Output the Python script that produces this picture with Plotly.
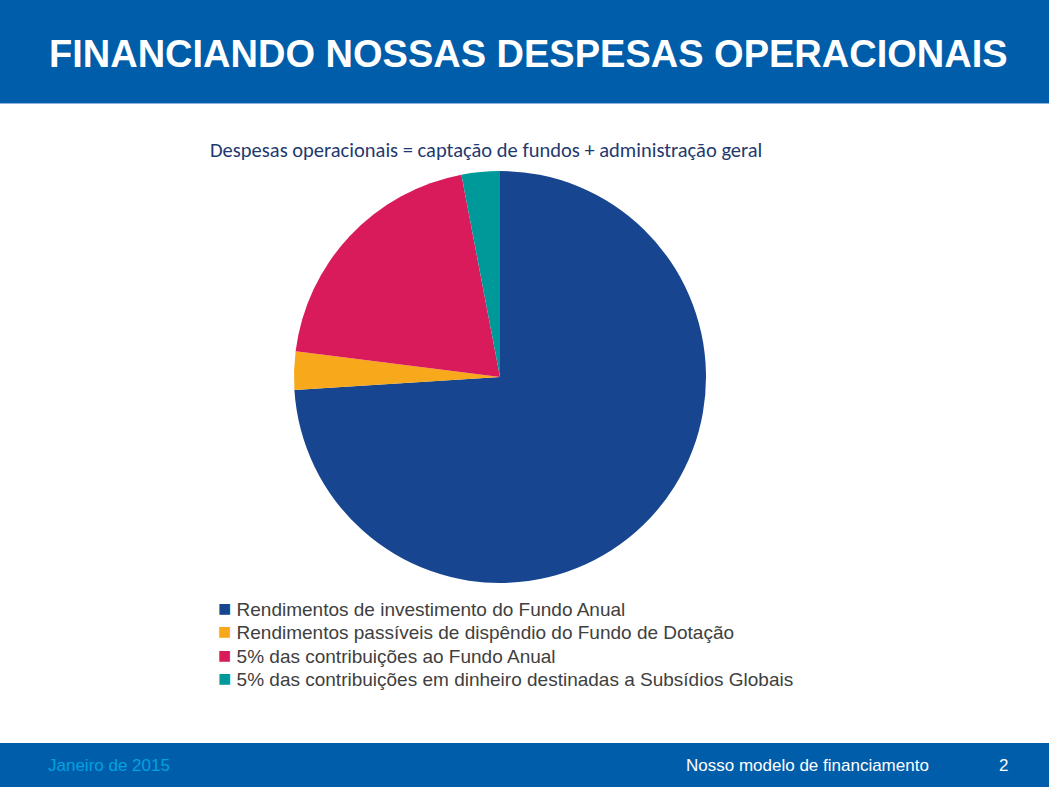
import plotly.graph_objects as go

categories = [
    "Rendimentos de investimento do Fundo Anual",
    "Rendimentos passíveis de dispêndio do Fundo de Dotação",
    "5% das contribuições ao Fundo Anual",
    "5% das contribuições em dinheiro destinadas a Subsídios Globais",
]
values = [74, 3, 20, 3]
colors = ["#17458F", "#F7A81B", "#D91B5C", "#009999"]

title_text = "FINANCIANDO NOSSAS DESPESAS OPERACIONAIS"
subtitle_text = "Despesas operacionais = captação de fundos + administração geral"
footer_left = "Janeiro de 2015"
footer_mid = "Nosso modelo de financiamento"
footer_page = "2"

W, H = 1049, 787
sans = "Liberation Sans, Arial, sans-serif"

fig = go.Figure(go.Pie(
    labels=categories,
    values=values,
    sort=False,
    direction="clockwise",
    rotation=0,
    marker=dict(colors=colors, line=dict(width=0)),
    textinfo="none",
    hoverinfo="label+percent",
    domain=dict(x=[(500 - 206) / W, (500 + 206) / W], y=[1 - 583 / H, 1 - 171 / H]),
))

annotations = [
    dict(text="<b>" + title_text + "</b>", xref="paper", yref="paper", x=528 / W, y=1 - 54 / H,
         xanchor="center", yanchor="middle", showarrow=False,
         font=dict(family=sans, size=38, color="white")),
    dict(text=subtitle_text, xref="paper", yref="paper", x=486 / W, y=1 - 150 / H,
         xanchor="center", yanchor="middle", showarrow=False,
         font=dict(family="Carlito, Calibri, Open Sans, sans-serif", size=20.5, color="#1F3A6E")),
    dict(text=footer_left, xref="paper", yref="paper", x=46 / W, y=1 - 765 / H,
         xanchor="left", yanchor="middle", showarrow=False,
         font=dict(family=sans, size=17, color="#00A2E0")),
    dict(text=footer_mid, xref="paper", yref="paper", x=931 / W, y=1 - 765 / H,
         xanchor="right", yanchor="middle", showarrow=False,
         font=dict(family=sans, size=17, color="white")),
    dict(text=footer_page, xref="paper", yref="paper", x=1003 / W, y=1 - 765 / H,
         xanchor="center", yanchor="middle", showarrow=False,
         font=dict(family=sans, size=17, color="white")),
]

# legend (built from the category and colour lists)
legend_top, legend_step = 608, 23.6
for i, (cat, col) in enumerate(zip(categories, colors)):
    annotations.append(dict(
        text=f'<span style="color:{col};font-size:22px">■</span> {cat}',
        xref="paper", yref="paper", x=216 / W, y=1 - (legend_top + i * legend_step) / H,
        xanchor="left", yanchor="middle", showarrow=False,
        font=dict(family=sans, size=19, color="#404040"),
    ))

fig.update_layout(
    width=W, height=H,
    margin=dict(l=0, r=0, t=0, b=0),
    paper_bgcolor="white",
    showlegend=False,
    shapes=[
        dict(type="rect", xref="paper", yref="paper", x0=0, x1=1, y0=1 - 103 / H, y1=1,
             fillcolor="#005DAA", line=dict(width=0), layer="below"),
        dict(type="line", xref="paper", yref="paper", x0=0, x1=1, y0=1 - 103.5 / H, y1=1 - 103.5 / H,
             line=dict(color="#8FB3DD", width=1)),
        dict(type="rect", xref="paper", yref="paper", x0=0, x1=1, y0=0, y1=1 - 743 / H,
             fillcolor="#005DAA", line=dict(width=0), layer="below"),
    ],
    annotations=annotations,
)

fig.write_html("out.html", config={"displayModeBar": False},
               post_script="document.body.style.margin='0';document.body.style.overflow='hidden';")
